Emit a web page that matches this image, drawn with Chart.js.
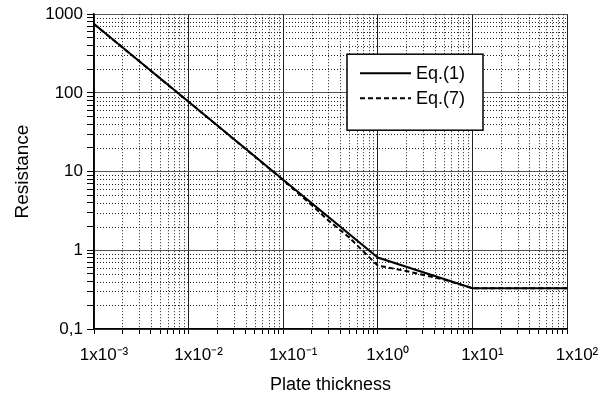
<!DOCTYPE html>
<html><head><meta charset="utf-8">
<script src="https://cdn.jsdelivr.net/npm/chart.js@4.4.1/dist/chart.umd.min.js"></script>
<style>html,body{margin:0;padding:0;background:#fff}#wrap{width:610px;height:401px;position:relative}</style>
</head><body><div id="wrap"><canvas id="c"></canvas></div>
<script>
// ---- data ----
const seriesNames = ['Eq.(1)', 'Eq.(7)'];
const thicknessEq1 = [0.001, 0.01, 0.1, 1, 10, 100];
const resistanceEq1 = [750, 77, 7.9, 0.81, 0.33, 0.33];
const thicknessEq7 = [0.001, 0.01, 0.1, 0.2, 0.3, 0.5, 0.77, 1, 2, 5, 10, 100];
const resistanceEq7 = [750, 77, 7.8, 3.75, 2.4, 1.45, 0.87, 0.64, 0.545, 0.425, 0.33, 0.33];
const xDecades = [0.001, 0.01, 0.1, 1, 10, 100];
const xTickLabels = ['1x10\u207B\u00B3', '1x10\u207B\u00B2', '1x10\u207B\u00B9', '1x10\u2070', '1x10\u00B9', '1x10\u00B2'];
const yDecades = [0.1, 1, 10, 100, 1000];
const yTickLabels = ['0,1', '1', '10', '100', '1000'];
const xTitle = 'Plate thickness';
const yTitle = 'Resistance';

// ---- helpers ----
const FONT = "'Liberation Sans', Arial, Helvetica, sans-serif";
function isDecade(v) { const l = Math.log10(v); return Math.abs(l - Math.round(l)) < 1e-6; }
function logTicks(decades) {
  const out = [];
  for (let i = 0; i < decades.length; i++) {
    const d = decades[i];
    if (i === decades.length - 1) { out.push(d); break; }
    for (let m = 1; m <= 9; m++) out.push(Number((m * d).toPrecision(6)));
  }
  return out;
}
function labelFor(v, decades, labels) {
  for (let i = 0; i < decades.length; i++) if (Math.abs(Math.log10(v) - Math.log10(decades[i])) < 1e-6) return labels[i];
  return '';
}
const toPoints = (xs, ys) => xs.map((x, i) => ({ x: x, y: ys[i] }));

const minorGrid = {
  id: 'minorGrid',
  beforeDatasetsDraw(chart) {
    const { ctx, chartArea: a, scales: { x, y } } = chart;
    ctx.save();
    ctx.strokeStyle = '#222';
    ctx.lineWidth = 1;
    ctx.setLineDash([1, 2]);
    x.ticks.forEach(t => {
      if (isDecade(t.value)) return;
      const px = Math.round(x.getPixelForValue(t.value)) + 0.5;
      ctx.beginPath(); ctx.moveTo(px, a.top); ctx.lineTo(px, a.bottom); ctx.stroke();
    });
    y.ticks.forEach(t => {
      if (isDecade(t.value)) return;
      const py = Math.round(y.getPixelForValue(t.value)) + 0.5;
      ctx.beginPath(); ctx.moveTo(a.left, py); ctx.lineTo(a.right, py); ctx.stroke();
    });
    ctx.restore();
  }
};

const boxLegend = {
  id: 'boxLegend',
  afterDatasetsDraw(chart) {
    const { ctx, chartArea: a } = chart;
    const left = a.left + 253, top = a.top + 40, w = 136, h = 76;
    ctx.save();
    ctx.fillStyle = '#fff';
    ctx.fillRect(left, top, w, h);
    ctx.strokeStyle = '#000';
    ctx.lineWidth = 1.5;
    ctx.setLineDash([]);
    ctx.strokeRect(left, top, w, h);
    ctx.font = '18px ' + FONT;
    ctx.fillStyle = '#000';
    ctx.textBaseline = 'middle';
    chart.data.datasets.forEach((ds, i) => {
      const yy = top + 19 + i * 25;
      ctx.beginPath();
      ctx.lineWidth = ds.borderWidth;
      ctx.setLineDash(ds.borderDash || []);
      ctx.moveTo(left + 13, yy); ctx.lineTo(left + 64, yy); ctx.stroke();
      ctx.setLineDash([]);
      ctx.fillText(ds.label, left + 69, yy + 1);
    });
    ctx.restore();
  }
};

new Chart(document.getElementById('c'), {
  type: 'line',
  data: {
    datasets: [
      { label: seriesNames[0], data: toPoints(thicknessEq1, resistanceEq1), borderColor: '#000', borderWidth: 2, pointRadius: 0, tension: 0, fill: false },
      { label: seriesNames[1], data: toPoints(thicknessEq7, resistanceEq7), borderColor: '#000', borderWidth: 2, borderDash: [5, 3], pointRadius: 0, tension: 0, fill: false }
    ]
  },
  options: {
    responsive: true,
    maintainAspectRatio: false,
    animation: false,
    events: [],
    layout: { padding: { top: 14, right: 43, left: 0, bottom: 0 } },
    plugins: { legend: { display: false }, tooltip: { enabled: false } },
    scales: {
      x: {
        type: 'logarithmic',
        min: xDecades[0], max: xDecades[xDecades.length - 1],
        afterBuildTicks: s => { s.ticks = logTicks(xDecades).map(v => ({ value: v })); },
        afterFit: s => { s.height = 72; },
        ticks: {
          autoSkip: false, maxRotation: 0, minRotation: 0, padding: 11, labelOffset: 10, color: '#000',
          font: { family: FONT, size: 17 },
          callback: v => labelFor(v, xDecades, xTickLabels)
        },
        grid: {
          color: c => (c.tick && isDecade(c.tick.value)) ? '#222' : 'rgba(0,0,0,0)',
          tickColor: '#000', tickLength: 5, lineWidth: 1
        },
        border: { color: '#000', width: 1.5 },
        title: { display: true, text: xTitle, color: '#000', font: { family: FONT, size: 18 }, padding: { top: 0, bottom: 5 } }
      },
      y: {
        type: 'logarithmic',
        min: yDecades[0], max: yDecades[yDecades.length - 1],
        afterBuildTicks: s => { s.ticks = logTicks(yDecades).map(v => ({ value: v })); },
        afterFit: s => { s.width = 94; },
        ticks: {
          autoSkip: false, padding: 4, color: '#000',
          font: { family: FONT, size: 17 },
          callback: v => labelFor(v, yDecades, yTickLabels)
        },
        grid: {
          color: c => (c.tick && isDecade(c.tick.value)) ? '#555' : 'rgba(0,0,0,0)',
          tickColor: '#000', tickLength: 7, lineWidth: 1
        },
        border: { color: '#000', width: 1.5 },
        title: { display: true, text: yTitle, color: '#000', font: { family: FONT, size: 19 }, padding: { top: 11, bottom: 0 } }
      }
    }
  },
  plugins: [minorGrid, boxLegend]
});
</script>
</body></html>
